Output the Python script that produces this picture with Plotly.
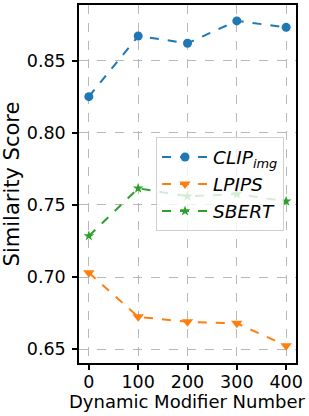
import plotly.graph_objects as go

x_vals = [0, 100, 200, 300, 400]
clip_img = [0.825, 0.867, 0.862, 0.8775, 0.873]
lpips = [0.703, 0.6725, 0.669, 0.668, 0.6525]
sbert = [0.7285, 0.7615, 0.756, 0.7575, 0.7525]

x_ticks = [0, 100, 200, 300, 400]
y_ticks = [0.65, 0.70, 0.75, 0.80, 0.85]
y_tick_labels = ["0.65", "0.70", "0.75", "0.80", "0.85"]

names = ["<i>CLIP<sub>img</sub></i>", "<i>LPIPS</i>", "<i>SBERT</i>"]
colors = ["#1f77b4", "#ff7f0e", "#2ca02c"]
symbols = ["circle", "triangle-down", "star"]
sizes = [9, 10, 8]
series = [clip_img, lpips, sbert]

fig = go.Figure()
for name, vals, c, s, sz in zip(names, series, colors, symbols, sizes):
    fig.add_trace(go.Scatter(
        x=x_vals, y=vals, name=name, mode="lines+markers",
        line=dict(color=c, width=2, dash="dash"),
        marker=dict(symbol=s, size=sz, color=c),
    ))

font = "DejaVu Sans"
fig.update_layout(
    width=309, height=416,
    margin=dict(l=79, r=13, t=5, b=53, autoexpand=False),
    plot_bgcolor="white", paper_bgcolor="white",
    font=dict(family=font, size=17.5, color="black"),
    showlegend=True,
    legend=dict(
        x=0.355, y=0.630, xanchor="left", yanchor="top",
        bgcolor="rgba(255,255,255,0.8)", bordercolor="#d0d0d0", borderwidth=1,
        font=dict(family=font, size=18.5, color="black"),
        tracegroupgap=0, itemwidth=46,
    ),
    annotations=[dict(
        text="Dynamic Modifier Number", xref="paper", yref="paper",
        x=0.5, y=-0.1075, xanchor="center", yanchor="middle",
        showarrow=False, font=dict(family=font, size=18, color="black"),
    )],
)
fig.update_xaxes(
    range=[-20, 420], tickvals=x_ticks,
    showline=True, linecolor="black", linewidth=1.5, mirror=True,
    ticks="outside", ticklen=5, tickwidth=1.5, tickcolor="black",
    showgrid=True, gridcolor="#b8b8b8", griddash="dash", gridwidth=1,
    zeroline=False, ticklabelstandoff=-3,
    tickfont=dict(size=17.5),
    automargin=False,
)
fig.update_yaxes(
    range=[0.6405, 0.8885], tickvals=y_ticks, ticktext=y_tick_labels,
    showline=True, linecolor="black", linewidth=1.5, mirror=True,
    ticks="outside", ticklen=5, tickwidth=1.5, tickcolor="black",
    showgrid=True, gridcolor="#b8b8b8", griddash="dash", gridwidth=1,
    zeroline=False, ticklabelstandoff=3,
    title=dict(text="Similarity Score", font=dict(size=21), standoff=10),
    tickfont=dict(size=17.5),
    automargin=False,
)
fig.write_html("out.html", config={"displayModeBar": False},
               post_script="document.body.style.margin='0';")
